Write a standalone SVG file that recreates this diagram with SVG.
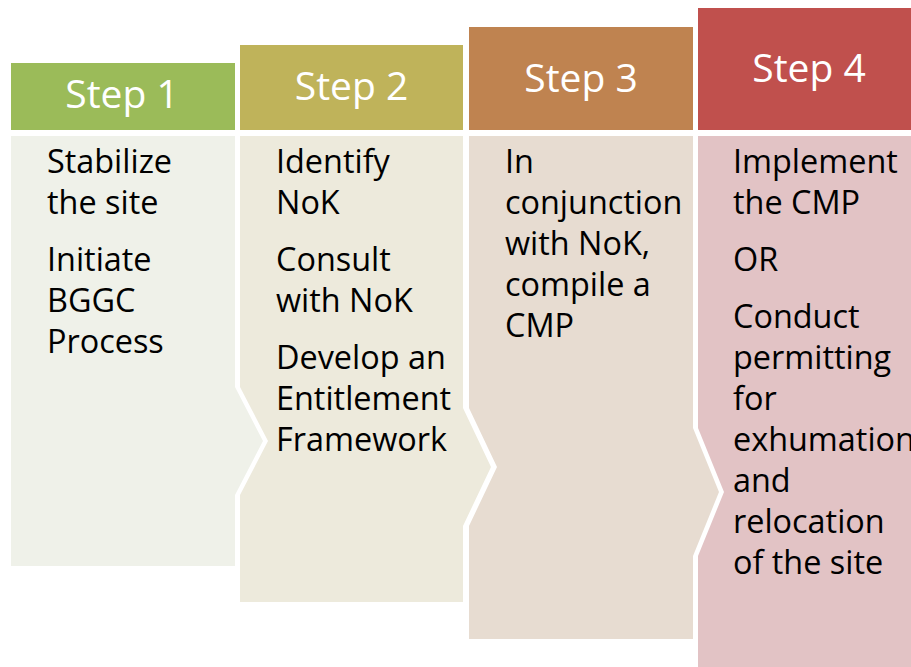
<svg xmlns="http://www.w3.org/2000/svg" width="911" height="667" viewBox="0 0 911 667">
  <style>
    .head { font-family: "Open Sans", "Noto Sans", sans-serif; font-size: 39px; fill: #ffffff; text-anchor: middle; }
    .body { font-family: "Open Sans", "Noto Sans", sans-serif; font-size: 32.4px; fill: #000000; }
  </style>
  <rect width="911" height="667" fill="#ffffff"/>

  <!-- Step 1 -->
  <g id="step1">
    <rect x="11" y="63" width="224" height="67" fill="#9BBB59"/>
    <polygon points="11,136 235,136 235,387 263,441 235,495 235,566 11,566" fill="#EFF1E9"/>
    <text class="head" x="122" y="108">Step 1</text>
    <text class="body">
      <tspan x="47" y="173">Stabilize</tspan>
      <tspan x="47" y="214">the site</tspan>
      <tspan x="47" y="271">Initiate</tspan>
      <tspan x="47" y="312">BGGC</tspan>
      <tspan x="47" y="353">Process</tspan>
    </text>
  </g>

  <!-- Step 2 -->
  <g id="step2">
    <rect x="240" y="45" width="223" height="85" fill="#BFB35A"/>
    <polygon points="240,136 463,136 463,408 491,467 463,526 463,602 240,602 240,495 268,441 240,387" fill="#EDEADC"/>
    <text class="head" x="351.5" y="100">Step 2</text>
    <text class="body">
      <tspan x="276" y="173">Identify</tspan>
      <tspan x="276" y="214">NoK</tspan>
      <tspan x="276" y="271">Consult</tspan>
      <tspan x="276" y="312">with NoK</tspan>
      <tspan x="276" y="369">Develop an</tspan>
      <tspan x="276" y="410">Entitlement</tspan>
      <tspan x="276" y="451">Framework</tspan>
    </text>
  </g>

  <!-- Step 3 -->
  <g id="step3">
    <rect x="469" y="27" width="224" height="103" fill="#BF8350"/>
    <polygon points="469,136 693,136 693,428 719,492 693,556 693,639 469,639 469,526 497,467 469,408" fill="#E7DCD1"/>
    <text class="head" x="581" y="92">Step 3</text>
    <text class="body">
      <tspan x="505" y="173">In</tspan>
      <tspan x="505" y="214">conjunction</tspan>
      <tspan x="505" y="255">with NoK,</tspan>
      <tspan x="505" y="296">compile a</tspan>
      <tspan x="505" y="337">CMP</tspan>
    </text>
  </g>

  <!-- Step 4 -->
  <g id="step4">
    <rect x="698" y="8" width="224" height="122" fill="#C0504D"/>
    <polygon points="698,136 922,136 922,667 698,667 698,556 724,492 698,428" fill="#E2C3C5"/>
    <text class="head" x="809" y="82">Step 4</text>
    <text class="body">
      <tspan x="733" y="173">Implement</tspan>
      <tspan x="733" y="214">the CMP</tspan>
      <tspan x="733" y="271">OR</tspan>
      <tspan x="733" y="328">Conduct</tspan>
      <tspan x="733" y="369">permitting</tspan>
      <tspan x="733" y="410">for</tspan>
      <tspan x="733" y="451">exhumation</tspan>
      <tspan x="733" y="492">and</tspan>
      <tspan x="733" y="533">relocation</tspan>
      <tspan x="733" y="574">of the site</tspan>
    </text>
  </g>
</svg>
